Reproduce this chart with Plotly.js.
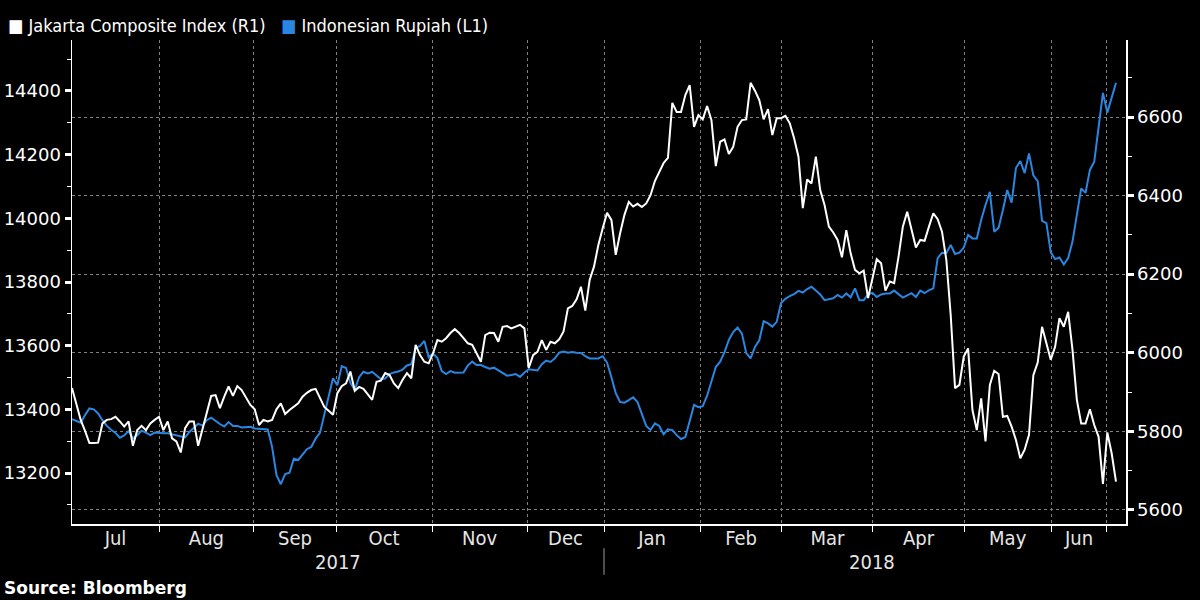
<!DOCTYPE html>
<html>
<head>
<meta charset="utf-8">
<script src="https://cdn.plot.ly/plotly-3.0.1.min.js"></script>
<style>
  body { margin: 0; background: #000; }
  #plot01 { width: 1200px; height: 600px; }
</style>
</head>
<body>
<div id="plot01"></div>
<script>
// daily closes, one value per trading day from early Jul 2017 to early Jul 2018

// Jakarta Composite Index (right axis)
let jciClose = [
    5910, 5867, 5829, 5801, 5770, 5770, 5771, 5820, 5829, 5831,
    5837, 5825, 5812, 5825, 5763, 5803, 5814, 5803, 5820, 5829,
    5837, 5803, 5825, 5782, 5774, 5746, 5808, 5825, 5825, 5763,
    5805, 5846, 5890, 5892, 5859, 5888, 5914, 5890, 5915, 5905,
    5887, 5867, 5856, 5816, 5829, 5825, 5829, 5856, 5871, 5844,
    5854, 5862, 5871, 5888, 5898, 5905, 5908, 5885, 5862, 5852,
    5842, 5897, 5915, 5922, 5952, 5903, 5913, 5908, 5895, 5880,
    5926, 5929, 5948, 5943, 5922, 5910, 5931, 5948, 5935, 6020,
    5994, 5977, 5973, 5999, 6032, 6028, 6037, 6050, 6060, 6050,
    6037, 6024, 6020, 5999, 5977, 6045, 6051, 6050, 6028, 6066,
    6068, 6062, 6066, 6071, 6062, 5961, 5994, 6002, 6032, 6007,
    6028, 6024, 6034, 6054, 6113, 6119, 6136, 6168, 6107, 6185,
    6219, 6274, 6317, 6356, 6338, 6249, 6304, 6351, 6384, 6372,
    6379, 6371, 6380, 6401, 6437, 6460, 6483, 6496, 6636, 6613,
    6613, 6656, 6681, 6575, 6605, 6594, 6628, 6592, 6475, 6537,
    6543, 6506, 6524, 6575, 6592, 6594, 6687, 6667, 6643, 6594,
    6620, 6554, 6597, 6597, 6603, 6584, 6546, 6499, 6368, 6441,
    6431, 6499, 6414, 6376, 6321, 6306, 6287, 6243, 6312, 6253,
    6211, 6202, 6209, 6139, 6189, 6238, 6228, 6158, 6181, 6177,
    6244, 6321, 6359, 6312, 6268, 6287, 6285, 6321, 6355, 6340,
    6308, 6236, 6096, 5910, 5918, 5990, 6011, 5854, 5803, 5884,
    5774, 5918, 5954, 5946, 5837, 5839, 5812, 5778, 5731, 5753,
    5791, 5943, 5975, 6066, 6020, 5982, 6015, 6088, 6066, 6104,
    6007, 5880, 5820, 5820, 5856, 5816, 5786, 5666, 5797, 5744,
    5672
];

// USD/IDR (left axis)
let idrClose = [
    13369, 13364, 13358, 13382, 13403, 13400, 13387, 13366, 13348, 13336,
    13326, 13311, 13318, 13332, 13309, 13319, 13333, 13327, 13319, 13327,
    13325, 13325, 13325, 13322, 13318, 13316, 13312, 13329, 13341, 13355,
    13349, 13366, 13374, 13363, 13354, 13346, 13360, 13348, 13348, 13343,
    13343, 13345, 13340, 13339, 13339, 13337, 13282, 13194, 13165, 13197,
    13201, 13245, 13241, 13258, 13275, 13282, 13308, 13326, 13382, 13445,
    13498, 13476, 13536, 13530, 13483, 13461, 13501, 13518, 13513, 13518,
    13505, 13495, 13497, 13511, 13516, 13519, 13525, 13538, 13542, 13593,
    13599, 13615, 13564, 13575, 13561, 13520, 13511, 13520, 13515, 13515,
    13516, 13538, 13550, 13539, 13539, 13533, 13528, 13531, 13523, 13516,
    13506, 13508, 13511, 13502, 13516, 13526, 13525, 13522, 13542, 13553,
    13549, 13560, 13578, 13582, 13578, 13580, 13578, 13577, 13567, 13560,
    13560, 13560, 13567, 13547, 13501, 13451, 13423, 13421, 13429, 13438,
    13423, 13382, 13348, 13335, 13356, 13348, 13322, 13337, 13335, 13319,
    13307, 13313, 13360, 13414, 13407, 13410, 13443, 13486, 13533, 13550,
    13580, 13618, 13643, 13657, 13638, 13577, 13560, 13596, 13617, 13677,
    13670, 13660, 13675, 13734, 13747, 13756, 13762, 13772, 13767, 13778,
    13785, 13773, 13761, 13743, 13746, 13749, 13759, 13751, 13764, 13752,
    13780, 13743, 13743, 13761, 13766, 13753, 13761, 13764, 13764, 13773,
    13762, 13751, 13758, 13765, 13753, 13773, 13765, 13774, 13780, 13875,
    13892, 13891, 13916, 13888, 13892, 13908, 13948, 13937, 13937, 13995,
    14042, 14083, 13958, 13970, 14026, 14089, 14049, 14158, 14180, 14142,
    14204, 14135, 14117, 13992, 13985, 13893, 13872, 13877, 13855, 13875,
    13927, 14005, 14094, 14080, 14152, 14178, 14296, 14394, 14332, 14378,
    14426
];

// month labels and where each month starts (trading day number)
let monthNames = ['Jul', 'Aug', 'Sep', 'Oct', 'Nov', 'Dec', 'Jan', 'Feb', 'Mar', 'Apr', 'May', 'Jun'];
let monthStart = [0, 20, 41.8, 60.7, 82.8, 104.6, 122.3, 144.4, 163.2, 184.1, 205.1, 225.1, 237.9];
let yearNames = ['2017', '2018'];

// labels sit in the middle of each month
let monthMid = monthNames.map((m, i) => (monthStart[i] + monthStart[i + 1]) / 2);
let yearMid = [(monthStart[0] + monthStart[6]) / 2, 184];

let white = '#ffffff';
let blue = '#2a86e0';
let numFont = {family: 'DejaVu Sans', size: 18, color: '#ffffff'};
let labelFont = {family: 'DejaVu Sans Condensed, DejaVu Sans', size: 20, color: '#e6e6e6'};

// 1. Trace data
let traceJci = {
    y: jciClose,
    name: 'Jakarta Composite Index (R1)',
    type: 'scatter',
    mode: 'lines',
    yaxis: 'y2',
    line: {color: white, width: 2}
};

let traceIdr = {
    y: idrClose,
    name: 'Indonesian Rupiah (L1)',
    type: 'scatter',
    mode: 'lines',
    yaxis: 'y',
    line: {color: blue, width: 2}
};

// 2. Put the trace data into an array
let data01 = [traceJci, traceIdr];

// 3. Add layout information
let layout01 = {
    width: 1200,
    height: 600,
    paper_bgcolor: '#000',
    plot_bgcolor: '#000',
    showlegend: false,
    margin: {l: 72, r: 74, t: 40, b: 76},
    xaxis: {
        range: [0, 242.3],
        tickmode: 'array',
        tickvals: monthMid,
        ticktext: monthNames,
        ticks: '',
        ticklabelstandoff: -5,
        showgrid: false,
        zeroline: false,
        showline: true,
        linecolor: white,
        linewidth: 1.5,
        tickfont: labelFont,
        minor: {
            tickmode: 'array',
            tickvals: monthStart.slice(1),
            ticks: 'outside',
            ticklen: 6,
            tickcolor: white,
            showgrid: true,
            gridcolor: '#808080',
            griddash: 'dot',
            gridwidth: 1
        }
    },
    yaxis: {
        range: [13040, 14560],
        tick0: 0,
        dtick: 200,
        tickformat: 'd',
        side: 'left',
        showgrid: false,
        zeroline: false,
        showline: true,
        linecolor: white,
        linewidth: 1.5,
        ticks: 'outside',
        ticklen: 6,
        tickwidth: 3,
        tickcolor: white,
        tickfont: numFont,
        minor: {dtick: 100, ticks: 'outside', ticklen: 4, tickwidth: 1, tickcolor: white, showgrid: false}
    },
    yaxis2: {
        range: [5564, 6796],
        tick0: 0,
        dtick: 200,
        tickformat: 'd',
        side: 'right',
        overlaying: 'y',
        showgrid: true,
        gridcolor: '#808080',
        griddash: 'dot',
        gridwidth: 1,
        zeroline: false,
        showline: true,
        linecolor: white,
        linewidth: 1.5,
        ticks: 'outside',
        ticklen: 6,
        tickwidth: 3,
        tickcolor: white,
        tickfont: numFont,
        minor: {dtick: 100, ticks: 'outside', ticklen: 4, tickwidth: 1, tickcolor: white, showgrid: false}
    },
    shapes: [
        // line between the two years under the axis
        {type: 'line', xref: 'x', yref: 'paper', x0: monthStart[6], x1: monthStart[6],
         y0: -0.05, y1: -0.105, line: {color: '#9a9a9a', width: 1}}
    ],
    annotations: [
        {xref: 'x', yref: 'paper', x: yearMid[0], y: -0.079, text: yearNames[0], showarrow: false,
         yanchor: 'middle', font: labelFont},
        {xref: 'x', yref: 'paper', x: yearMid[1], y: -0.079, text: yearNames[1], showarrow: false,
         yanchor: 'middle', font: labelFont},
        {xref: 'paper', yref: 'paper', x: -0.066, y: -0.133, xanchor: 'left', yanchor: 'middle',
         text: '<b>Source: Bloomberg</b>', showarrow: false,
         font: {family: 'DejaVu Sans', size: 17, color: '#ffffff'}},
        {xref: 'paper', yref: 'paper', x: -0.063, y: 1.029, xanchor: 'left', yanchor: 'middle',
         text: '<span style="color:' + white + '">■</span> ' + traceJci.name +
               '   <span style="color:' + blue + '">■</span> ' + traceIdr.name,
         showarrow: false,
         font: {family: 'DejaVu Sans Condensed, DejaVu Sans', size: 18, color: '#ffffff'}}
    ]
};

// 4. Call on Plotly.newPlot and plot to an id
Plotly.newPlot('plot01', data01, layout01, {staticPlot: true});
</script>
</body>
</html>
